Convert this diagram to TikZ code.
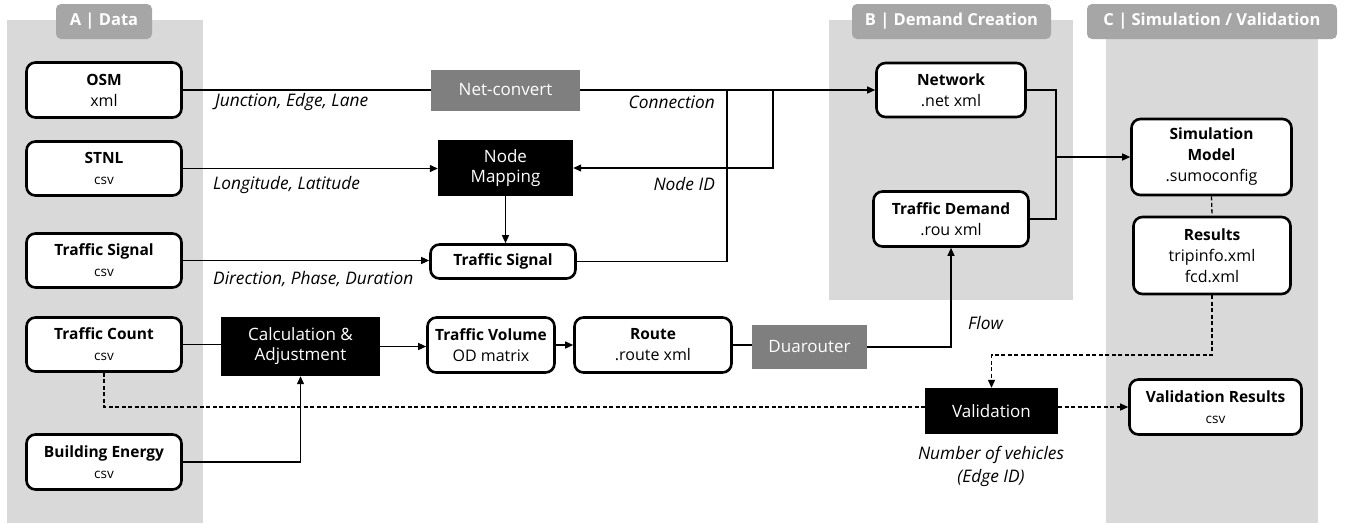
\documentclass[tikz,border=0pt]{standalone}
\usepackage{fontspec}
\setmainfont{Open Sans}
\usetikzlibrary{arrows.meta}
\definecolor{panelgray}{HTML}{D9D9D9}
\definecolor{tabgray}{HTML}{A6A6A6}
\definecolor{procgray}{HTML}{7F7F7F}
\newcommand\smallsub{\fontsize{13.5}{21}\selectfont}
\newcommand\ttl[1]{{\fontsize{15.5}{21}\selectfont\bfseries #1}}
\tikzset{
 panel/.style={fill=panelgray, draw=none},
 tab/.style={fill=tabgray, rounded corners=5pt, text=white, font=\fontsize{16.5}{18}\selectfont\bfseries, inner sep=0pt},
 databox/.style={draw, line width=2.6pt, rounded corners=9pt, fill=white, align=center, inner sep=0pt, font=\fontsize{16}{21}\selectfont},
 blackbox/.style={fill=black, text=white, align=center, inner sep=0pt, font=\fontsize{17}{20}\selectfont},
 graybox/.style={fill=procgray, text=white, align=center, inner sep=0pt, font=\fontsize{17}{20}\selectfont},
 conn/.style={line width=1.3pt},
 arr/.style={conn, -{Triangle[length=8pt,width=7pt]}},
 dconn/.style={conn, dash pattern=on 4pt off 2.5pt},
 darr/.style={dconn, -{Triangle[length=8pt,width=7pt]}},
 lab/.style={font=\fontsize{17.3}{23}\selectfont\itshape, inner sep=0pt},
}
\begin{document}
\begin{tikzpicture}[x=1pt,y=-1pt]
\useasboundingbox (0,0) rectangle (1348,523);
% panels
\fill[panel] (7,20) rectangle (203,523);
\fill[panel] (829,20) rectangle (1073,300);
\fill[panel] (1106,20) rectangle (1318,523);
\node[tab, minimum width=96pt, minimum height=35pt] (tabA) at (104,21.5) {A | Data};
\node[tab, minimum width=199pt, minimum height=35pt] (tabB) at (951.5,21.5) {B | Demand Creation};
\node[tab, minimum width=250pt, minimum height=35pt] (tabC) at (1212,21.5) {C | Simulation / Validation};
% A column
\node[databox, minimum width=155pt, minimum height=55pt] (osm) at (104,90) {\ttl{OSM}\\xml};
\node[databox, minimum width=155pt, minimum height=54pt] (stnl) at (104,168.5) {\ttl{STNL}\\\smallsub csv};
\node[databox, minimum width=155pt, minimum height=54pt] (tsigA) at (104,260.5) {\ttl{Traffic Signal}\\\smallsub csv};
\node[databox, minimum width=155pt, minimum height=54pt] (tcount) at (104,344.5) {\ttl{Traffic Count}\\\smallsub csv};
\node[databox, minimum width=155pt, minimum height=55pt] (benergy) at (104,462) {\ttl{Building Energy}\\\smallsub csv};
% middle
\node[graybox, minimum width=149pt, minimum height=41pt] (netconv) at (505.5,90) {Net-convert};
\node[blackbox, minimum width=135pt, minimum height=56pt] (nodemap) at (505.5,168) {Node\\Mapping};
\node[databox, minimum width=145pt, minimum height=34pt] (tsigM) at (503,261.5) {\ttl{Traffic Signal}};
\node[blackbox, minimum width=159pt, minimum height=59pt] (calc) at (300.5,346.5) {Calculation \&\\Adjustment};
\node[databox, minimum width=127pt, minimum height=55pt] (tvol) at (491,345) {\ttl{Traffic Volume}\\OD matrix};
\node[databox, minimum width=157pt, minimum height=55pt] (route) at (653,345) {\ttl{Route}\\.route xml};
\node[graybox, minimum width=115pt, minimum height=44pt] (duar) at (809.5,347) {Duarouter};
% B
\node[databox, minimum width=149pt, minimum height=54pt] (network) at (951,90) {\ttl{Network}\\.net xml};
\node[databox, minimum width=155pt, minimum height=55pt] (tdem) at (951,219) {\ttl{Traffic Demand}\\.rou xml};
% C
\node[databox, minimum width=160pt, minimum height=76pt] (sim) at (1211.5,157) {\ttl{Simulation}\\\ttl{Model}\\.sumoconfig};
\node[databox, minimum width=157pt, minimum height=77pt] (res) at (1212,255.5) {\ttl{Results}\\tripinfo.xml\\fcd.xml};
\node[blackbox, minimum width=133pt, minimum height=46pt] (valid) at (991.5,411) {Validation};
\node[databox, minimum width=172pt, minimum height=55pt] (vres) at (1215.5,407) {\ttl{Validation Results}\\\smallsub csv};
% junction coordinates
\coordinate (j1) at (727,90);
\coordinate (j2) at (773,90);
\coordinate (jb) at (1056,157);
\coordinate (jr) at (1212,355);
% connectors
\draw[conn] (osm) -- (netconv);
\draw[arr] (netconv.east) -- (network.west);
\draw[conn] (tsigM.east) -| (j1);
\draw[arr] (j2) |- (nodemap.east);
\draw[arr] (stnl.east) -- (stnl.east -| nodemap.west);
\draw[arr] (nodemap.south) -- (nodemap.south |- tsigM.north);
\draw[arr] (tsigA.east) -- (tsigA.east -| tsigM.west);
\draw[conn] (tcount.east) -- (tcount.east -| calc.west);
\draw[arr] (calc.east) -- (calc.east -| tvol.west);
\draw[arr] (tvol.east) -- (route.west);
\draw[conn] (route.east) -- (route.east -| duar.west);
\draw[arr] (duar.east) -| (tdem.south);
\draw[arr] (benergy.east) -| (calc.south);
\draw[conn] (network.east) -| (jb) |- (tdem.east);
\draw[arr] (jb) -- (sim.west);
\draw[dconn] (sim.south) -- (res.north);
\draw[darr] (res.south) -- (jr) -| (valid.north);
\draw[dconn] (tcount.south) |- (valid.west |- vres.west);
\draw[darr] (valid.east |- vres.west) -- (vres.west);
% labels
\node[lab, anchor=west] (l1) at (215,102) {Junction, Edge, Lane};
\node[lab, anchor=east] (l2) at (715,102) {Connection};
\node[lab, anchor=west] (l3) at (213,185) {Longitude, Latitude};
\node[lab, anchor=east] (l4) at (715,184) {Node ID};
\node[lab, anchor=west] (l5) at (213,279) {Direction, Phase, Duration};
\node[lab, anchor=west] (l6) at (968,323) {Flow};
\node[lab, align=center] (l7) at (991,466) {Number of vehicles\\(Edge ID)};
\end{tikzpicture}
\end{document}
